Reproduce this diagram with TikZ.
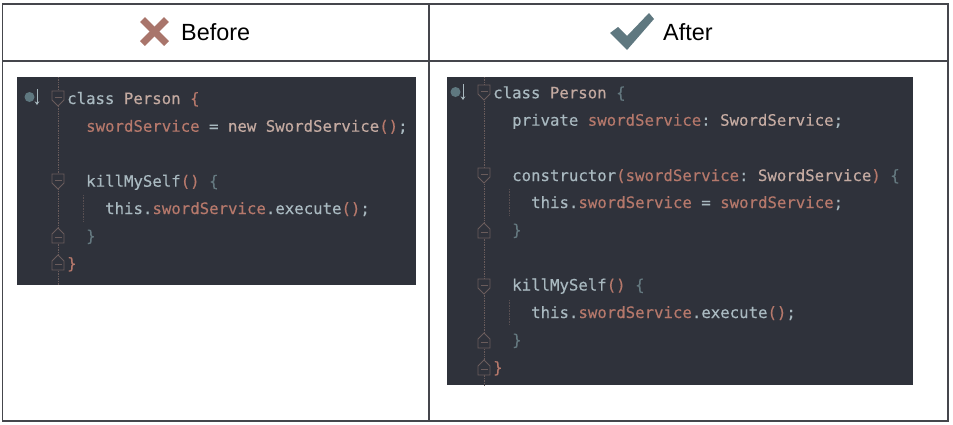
\documentclass[tikz,border=0pt]{standalone}
\usepackage{fontspec}
\usetikzlibrary{arrows.meta}
\setmainfont{Liberation Sans}
\setmonofont[FakeBold=0.3]{DejaVu Sans Mono}
\definecolor{panelbg}{HTML}{2F323B}
\definecolor{gridline}{HTML}{45464C}
\definecolor{crosscol}{HTML}{A9756B}
\definecolor{checkcol}{HTML}{5F7880}
\definecolor{plaincol}{HTML}{A9B9C0}
\definecolor{fieldcol}{HTML}{B5786B}
\definecolor{typecol}{HTML}{C4AAA1}
\definecolor{bracecol}{HTML}{64787F}
\definecolor{foldcol}{HTML}{6A5C5C}
\newcommand{\pl}[1]{\textcolor{plaincol}{#1}}
\newcommand{\fd}[1]{\textcolor{fieldcol}{#1}}
\newcommand{\ty}[1]{\textcolor{typecol}{#1}}
\newcommand{\bc}[1]{\textcolor{bracecol}{#1}}
\tikzset{
    x=1pt,y=-1pt,
    headtext/.style={inner sep=0pt,anchor=base west,font=\fontsize{23.4}{24}\selectfont},
    codeline/.style={inner sep=0pt,anchor=base west,font=\ttfamily\fontsize{15.7}{16}\selectfont},
    guide/.style={draw=foldcol,line width=0.7pt,densely dotted},
    indent/.style={draw=foldcol!70!panelbg,line width=0.6pt,densely dotted},
    foldopen/.pic={
        \draw[foldcol,line width=0.8pt,fill=panelbg] (-6,-7) -- (6,-7) -- (6,2) -- (0,8) -- (-6,2) -- cycle;
        \draw[foldcol,line width=0.8pt] (-3.5,-1) -- (3.5,-1);
    },
    foldclose/.pic={
        \draw[foldcol,line width=0.8pt,fill=panelbg] (-6,7) -- (6,7) -- (6,-2) -- (0,-8) -- (-6,-2) -- cycle;
        \draw[foldcol,line width=0.8pt] (-3.5,1) -- (3.5,1);
    }
}
\begin{document}
\begin{tikzpicture}
    \useasboundingbox (0,0) rectangle (953,424);

    % table
    \draw[gridline,line width=1.2pt] (2.5,4) rectangle (948,421);
    \draw[gridline,line width=1.2pt] (2.5,61) -- (948,61);
    \draw[gridline,line width=1.2pt] (429,4) -- (429,421);

    % header
    \draw[crosscol,line width=7pt] (142.5,19.5) -- (166.5,43.5);
    \draw[crosscol,line width=7pt] (166.5,19.5) -- (142.5,43.5);
    \node[headtext] (before) at (181,40) {Before};
    \fill[checkcol] (610,33) -- (618,27) -- (627,36) -- (649,13) -- (654,19) -- (627,50) -- cycle;
    \node[headtext] (after) at (663,40) {After};

    % panels
    \fill[panelbg] (17,77) rectangle (416,285);
    \fill[panelbg] (447,77) rectangle (913,385);

    % gutter left
    \coordinate (gl1) at (58,77);
    \coordinate (gl2) at (58,285);
    \path[guide] (gl1) -- (gl2);
    \path[indent] (83,195) -- (83,221);
    \fill[checkcol] (29.5,97) circle (5);
    \draw[plaincol,line width=1pt,-{Stealth[length=3.5pt,width=4.5pt]}] (37,89) -- (37,105);
    \pic at (58,98) {foldopen};
    \pic at (58,181) {foldopen};
    \pic at (58,236) {foldclose};
    \pic at (58,263) {foldclose};

    % code left
    \node[codeline] (b1) at (67,104) {\pl{class} \ty{Person} \fd{\{}};
    \node[codeline] (b2) at (86,131.7) {\fd{swordService} \pl{=} \ty{new} \ty{SwordService}\fd{()}\pl{;}};
    \node[codeline] (b3) at (86,186.7) {\pl{killMySelf}\fd{()} \bc{\{}};
    \node[codeline] (b4) at (105,214) {\pl{this.}\fd{swordService}\pl{.execute}\fd{()}\pl{;}};
    \node[codeline] (b5) at (86,241.5) {\bc{\}}};
    \node[codeline] (b6) at (67,269) {\fd{\}}};

    % gutter right
    \coordinate (gr1) at (484,77);
    \coordinate (gr2) at (484,385);
    \path[guide] (gr1) -- (gr2);
    \path[indent] (509,189) -- (509,215);
    \path[indent] (509,300) -- (509,325);
    \fill[checkcol] (455.5,92) circle (5);
    \draw[plaincol,line width=1pt,-{Stealth[length=3.5pt,width=4.5pt]}] (463,84) -- (463,100);
    \pic at (484,92) {foldopen};
    \pic at (484,175) {foldopen};
    \pic at (484,231) {foldclose};
    \pic at (484,286) {foldopen};
    \pic at (484,341) {foldclose};
    \pic at (484,368) {foldclose};

    % code right
    \node[codeline] (a1) at (493,98.3) {\pl{class} \ty{Person} \bc{\{}};
    \node[codeline] (a2) at (512,125.7) {\pl{private} \fd{swordService}\pl{:} \ty{SwordService}\pl{;}};
    \node[codeline] (a3) at (512,181) {\pl{constructor}\fd{(swordService}\pl{:} \ty{SwordService}\fd{)} \bc{\{}};
    \node[codeline] (a4) at (531,208) {\pl{this.}\fd{swordService} \pl{=} \fd{swordService}\pl{;}};
    \node[codeline] (a5) at (512,235.5) {\bc{\}}};
    \node[codeline] (a6) at (512,290.5) {\pl{killMySelf}\fd{()} \bc{\{}};
    \node[codeline] (a7) at (531,318) {\pl{this.}\fd{swordService}\pl{.execute}\fd{()}\pl{;}};
    \node[codeline] (a8) at (512,345.5) {\bc{\}}};
    \node[codeline] (a9) at (493,373) {\fd{\}}};
\end{tikzpicture}
\end{document}
